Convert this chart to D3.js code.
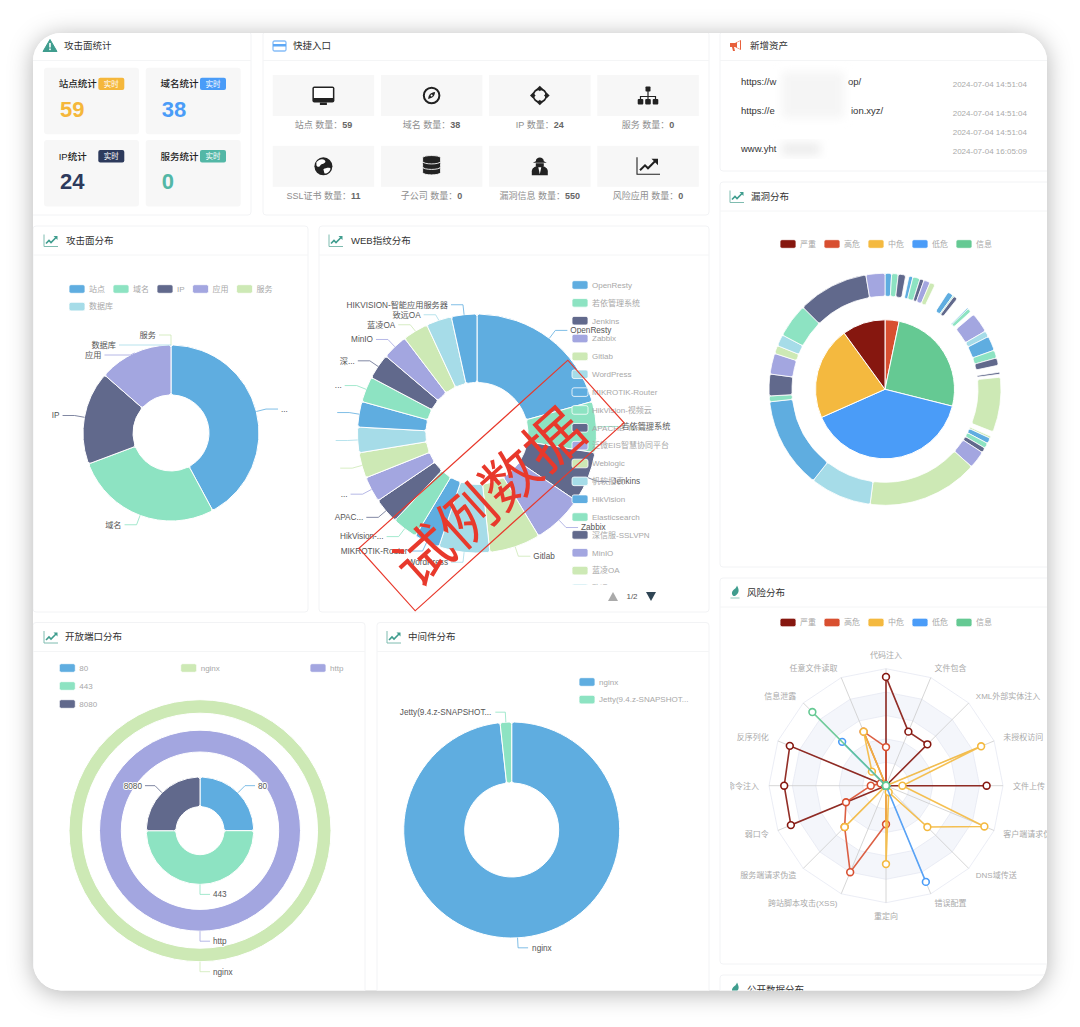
<!DOCTYPE html>
<html>
<head>
<meta charset="utf-8">
<script src="https://cdn.jsdelivr.net/npm/d3@7"></script>
<style>
  html, body { margin: 0; padding: 0; background: #fff; }
  svg { display: block; font-family: "Liberation Sans", "Noto Sans CJK SC", sans-serif; }
</style>
</head>
<body>
<svg id="page" width="1080" height="1027"></svg>
<script>
// top stat tiles
const statNames = ["站点统计", "域名统计", "IP统计", "服务统计"];
const statCounts = [59, 38, 24, 0];
const statColors = ["#f5b73b", "#4a9cf8", "#2d3a5c", "#53b7a6"];

// quick entry tiles
const quickNames = ["站点", "域名", "IP", "服务", "SSL证书", "子公司", "漏洞信息", "风险应用"];
const quickCounts = [59, 38, 24, 0, 11, 0, 550, 0];

// new assets list
const assetTimes = ["2024-07-04 14:51:04", "2024-07-04 14:51:04", "2024-07-04 14:51:04", "2024-07-04 16:05:09"];

// attack surface donut
const surfaceNames = ["站点", "域名", "IP", "应用", "服务", "数据库"];
const surfaceLabels = ["...", "域名", "IP", "应用", "服务", "数据库"];
const surfaceValues = [59, 38, 24, 19, 0, 0];

// web fingerprint donut
const webNames = ["OpenResty", "若依管理系统", "Jenkins", "Zabbix", "Gitlab", "WordPress", "MIKROTIK-Router",
  "HikVision-视频云", "APACHE-Tomcat", "泛微EIS智慧协同平台", "Weblogic", "帆软报表", "HikVision", "Elasticsearch",
  "深信服-SSLVPN", "MinIO", "蓝凌OA", "致远OA", "HIKVISION-智能应用服务器"];
const webLabels = ["OpenResty", "若依管理系统", "Jenkins", "Zabbix", "Gitlab", "WordPress", "MIKROTIK-Router",
  "HikVision-...", "APAC...", "...", "", "", "", "...", "深...", "MinIO", "蓝凌OA", "致远OA", "HIKVISION-智能应用服务器"];
const webValues = [6, 2, 2, 2, 2, 2, 1, 1, 1, 1, 1, 1, 1, 1, 1, 1, 1, 1, 1];

// open port rings
const portNames = ["80", "443", "8080"];
const portValues = [1, 2, 1];

// middleware donut
const middleNames = ["nginx", "Jetty(9.4.z-SNAPSHOT..."];
const middleValues = [57, 1];

// severity levels, shared by vuln pie and risk radar
const levelNames = ["严重", "高危", "中危", "低危", "信息"];
const levelColors = ["#86170f", "#d84f30", "#f4b93f", "#4a9cf8", "#65c993"];

// vuln pie runs clockwise from the top in this order
const vulnLevelOrder = [1, 4, 3, 2, 0];
const vulnValues = [55, 18, 119, 217, 141];

// outer vuln ring, category index is palette index, null is an empty stretch of the ring
const vulnRingValues = [3.3, 3.3, 3.7, 1.7, 2, 3.6, 2.1, 3.2, 2.7, 7.4, 3, 0.6, 2, 6.7, 0.6, 1.9, 2, 10.1, 3.1, 7.3, 4, 3.7,
  3.5, 1, 1.5, 27.5, 2.5, 1, 2.8, 2.7, 2.5, 8.8, 55.6, 30.8, 45.6, 2.9, 10.9, 10.4, 4.1, 5.8, 17.1, 35.5, 9.5];
const vulnRingCats = [0, 1, 2, null, 0, 1, 2, 3, 4, null, 0, 1, 2, null, 0, 1, null, 3, 5, 0, 1, 2,
  null, 2, null, 4, null, 4, 0, 1, 2, 3, 4, 5, 0, 1, 2, 3, 4, 5, 1, 2, 3];

// risk radar, percent of the axis
const radarAxes = ["代码注入", "文件包含", "XML外部实体注入", "未授权访问", "文件上传", "客户端请求伪造", "DNS域传送", "错误配置",
  "重定向", "跨站脚本攻击(XSS)", "服务端请求伪造", "弱口令", "命令注入", "反序列化", "信息泄露", "任意文件读取"];
const radarCritical = [93, 50, 50, 0, 86, 0, 0, 0, 0, 0, 0, 88, 87, 89, 0, 0];
const radarHigh = [33, 0, 0, 0, 0, 0, 0, 0, 33, 80, 50, 37, 13, 5, 0, 50];
const radarMedium = [0, 0, 0, 88, 14, 91, 50, 6, 67, 0, 50, 0, 0, 0, 17, 50];
const radarLow = [0, 0, 0, 0, 0, 0, 0, 89, 0, 0, 0, 0, 0, 0, 53, 0];
const radarInfo = [0, 0, 0, 0, 0, 0, 0, 0, 0, 0, 0, 0, 0, 0, 89, 0];
const radarSeries = [radarCritical, radarHigh, radarMedium, radarLow, radarInfo];

const palette = ["#5fade0", "#8de3c2", "#61698c", "#a3a6e0", "#cde9b5", "#a6dce8"];
const textGray = "#a8a8a8";
const labelColor = "#555";
const tileBg = "#f7f7f7";
const iconDark = "#222";
const iconTeal = "#3f9d8e";

const svg = d3.select("#page");
const defs = svg.append("defs");

defs.append("filter").attr("id", "soft").attr("x", "-30%").attr("y", "-30%").attr("width", "160%").attr("height", "160%")
  .append("feGaussianBlur").attr("stdDeviation", 5);
defs.append("clipPath").attr("id", "windowClip")
  .append("rect").attr("x", 33).attr("y", 33).attr("width", 1014).attr("height", 957.5).attr("rx", 28);
defs.append("clipPath").attr("id", "webLegendClip")
  .append("rect").attr("x", 560).attr("y", 276).attr("width", 140).attr("height", 309);
defs.append("clipPath").attr("id", "radarClip")
  .append("rect").attr("x", 730).attr("y", 630).attr("width", 317).attr("height", 310);

// window with its shadow
svg.append("rect").attr("x", 33).attr("y", 33).attr("width", 1014).attr("height", 957.5).attr("rx", 28)
  .attr("fill", "#fff").style("filter", "drop-shadow(0 3px 12px rgba(0,0,0,.3))");

const root = svg.append("g").attr("clip-path", "url(#windowClip)");

function txt(g, x, y, s, size, color, anchor, weight) {
  return g.append("text").attr("x", x).attr("y", y).attr("dy", "0.35em")
    .attr("font-size", size).attr("fill", color).attr("text-anchor", anchor || "start")
    .attr("font-weight", weight || 400).text(s);
}

// ---- small icons, drawn around 0,0 ----
const icons = {
  warn(g) {
    g.append("path").attr("d", "M0,-6.5L7,5.5H-7Z").attr("fill", iconTeal).attr("stroke", iconTeal).attr("stroke-linejoin", "round");
    g.append("rect").attr("x", -0.8).attr("y", -3).attr("width", 1.6).attr("height", 4.5).attr("fill", "#fff");
    g.append("rect").attr("x", -0.8).attr("y", 2.5).attr("width", 1.6).attr("height", 1.6).attr("fill", "#fff");
  },
  card(g) {
    g.append("rect").attr("x", -6.5).attr("y", -5).attr("width", 13).attr("height", 10).attr("rx", 1.5).attr("fill", "#fff").attr("stroke", "#86bdf8").attr("stroke-width", 1.3);
    g.append("rect").attr("x", -6.5).attr("y", -2).attr("width", 13).attr("height", 2.5).attr("fill", "#5ea8f5");
  },
  horn(g) {
    g.append("path").attr("d", "M-6,-3H-1L5,-6V4L-1,1H-6Z").attr("fill", "#e8603c");
    g.append("path").attr("d", "M-4,1L-3,5H-1L-2,1Z").attr("fill", "#e8603c");
    g.append("path").attr("d", "M1,-3.5L4,-5V3L1,1.5Z").attr("fill", "#fff");
  },
  trend(g) {
    g.append("path").attr("d", "M-7,-6V6H7").attr("fill", "none").attr("stroke", "#7fbcb0").attr("stroke-width", 1);
    g.append("path").attr("d", "M-5,3L-2,0L0,2L5,-3").attr("fill", "none").attr("stroke", iconTeal).attr("stroke-width", 1.6);
    g.append("path").attr("d", "M2.5,-4.5H6.5V-0.5Z").attr("fill", iconTeal);
  },
  leaf(g) {
    g.append("path").attr("d", "M2,-7C4,-3 5,0 0,3.5C-3,4 -4,0 -2,-2C0,-4 1,-4 2,-7Z").attr("fill", iconTeal);
    g.append("rect").attr("x", -4.5).attr("y", 5).attr("width", 9).attr("height", 1).attr("fill", "#8fc9bd");
  },
  monitor(g) {
    g.append("rect").attr("x", -11).attr("y", -9).attr("width", 22).attr("height", 16).attr("rx", 2).attr("fill", iconDark);
    g.append("rect").attr("x", -9.5).attr("y", -7.5).attr("width", 19).attr("height", 10).attr("fill", "#fff");
    g.append("rect").attr("x", -3.5).attr("y", 7).attr("width", 7).attr("height", 2.5).attr("fill", iconDark);
  },
  compass(g) {
    g.append("circle").attr("r", 7.8).attr("fill", "none").attr("stroke", iconDark).attr("stroke-width", 2);
    g.append("path").attr("d", "M3.5,-3.5C3,1 1,2.5 -3.5,3.5C-3,-1 -1,-3 3.5,-3.5Z").attr("fill", iconDark);
    g.append("circle").attr("r", 1).attr("fill", "#fff");
  },
  target(g) {
    g.append("circle").attr("r", 6.5).attr("fill", "none").attr("stroke", iconDark).attr("stroke-width", 1.8);
    [[0, -7], [7, 0], [0, 7], [-7, 0]].forEach(p =>
      g.append("rect").attr("x", p[0] - 2).attr("y", p[1] - 2).attr("width", 4).attr("height", 4)
        .attr("fill", iconDark).attr("transform", `rotate(45,${p[0]},${p[1]})`));
  },
  sitemap(g) {
    g.append("path").attr("d", "M0,-5V1M-7.5,5V1H7.5V5M0,1V5").attr("fill", "none").attr("stroke", iconDark).attr("stroke-width", 1.2);
    g.append("rect").attr("x", -2.5).attr("y", -9).attr("width", 5).attr("height", 5).attr("rx", 0.8).attr("fill", iconDark);
    [-7.5, 0, 7.5].forEach(x =>
      g.append("rect").attr("x", x - 2.8).attr("y", 3.5).attr("width", 5.6).attr("height", 5.5).attr("rx", 1).attr("fill", iconDark));
  },
  globe(g) {
    g.append("circle").attr("r", 9).attr("fill", iconDark);
    g.append("path").attr("d", "M-7,-4C-4,-8 1,-8 2,-5C2,-2 -2,-3 -3,-1C-4,1 -6,1 -7,-1ZM0,3C3,1 8,1 7,3C6,6 3,8 1,7Z").attr("fill", "#fff");
  },
  database(g) {
    [4.5, -1, -6.5].forEach(y => {
      g.append("path").attr("d", `M-9,${y - 2}C-9,${y - 5} 9,${y - 5} 9,${y - 2}V${y + 1.5}C9,${y + 5} -9,${y + 5} -9,${y + 1.5}Z`)
        .attr("fill", iconDark).attr("stroke", "#f7f7f7").attr("stroke-width", 0.9);
    });
  },
  spy(g) {
    g.append("path").attr("d", "M-8,9V5C-8,2 -5,0 -2,0H2C5,0 8,2 8,5V9Z").attr("fill", iconDark);
    g.append("path").attr("d", "M-4,-5C-4,-10 4,-10 4,-5L7,-3.5H-7Z").attr("fill", iconDark);
    g.append("path").attr("d", "M-4,-3H4V-1C4,1 2,2 0,2C-2,2 -4,1 -4,-1Z").attr("fill", iconDark);
    g.append("path").attr("d", "M-1.5,1L0,8L1.5,1Z").attr("fill", "#fff");
  },
  chart(g) {
    g.append("path").attr("d", "M-11,-9V8H12").attr("fill", "none").attr("stroke", iconDark).attr("stroke-width", 1.1);
    g.append("path").attr("d", "M-8,4L-3,-1L0,2L7,-5").attr("fill", "none").attr("stroke", iconDark).attr("stroke-width", 2);
    g.append("path").attr("d", "M3.5,-7.5H10V-1Z").attr("fill", iconDark);
  }
};
function icon(g, name, x, y) {
  icons[name](g.append("g").attr("transform", `translate(${x},${y})`));
}

// ---- cards ----
function card(x0, y0, x1, y1, title, iconName, iconX, titleX) {
  root.append("rect").attr("x", x0).attr("y", y0).attr("width", x1 - x0).attr("height", y1 - y0).attr("rx", 3)
    .attr("fill", "#fff").attr("stroke", "#f2f3f5");
  root.append("line").attr("x1", x0).attr("x2", x1).attr("y1", y0 + 29).attr("y2", y0 + 29).attr("stroke", "#f4f5f6");
  icon(root, iconName, iconX, y0 + 14.5);
  txt(root, titleX, y0 + 14.5, title, 9.5, "#333");
}
card(30, 31.5, 251, 215, "攻击面统计", "warn", 50, 64);
card(263, 31.5, 709, 215, "快捷入口", "card", 279.5, 293);
card(720, 31.5, 1060, 171, "新增资产", "horn", 736, 750);
card(720, 182, 1060, 567, "漏洞分布", "trend", 737, 751);
card(33, 226, 308, 612, "攻击面分布", "trend", 51, 66);
card(319, 226, 709, 612, "WEB指纹分布", "trend", 336, 351);
card(720, 578, 1060, 964, "风险分布", "leaf", 735, 747);
card(33, 622.5, 365, 1000, "开放端口分布", "trend", 51, 65);
card(377, 622.5, 709, 1000, "中间件分布", "trend", 394, 408);
card(720, 975, 1060, 1100, "公开数据分布", "leaf", 735, 747);

// ---- stat tiles ----
statNames.forEach((name, i) => {
  const x = 44 + (i % 2) * 101.7, y = 67.7 + Math.floor(i / 2) * 72.4;
  root.append("rect").attr("x", x).attr("y", y).attr("width", 95).attr("height", 66.5).attr("rx", 3).attr("fill", tileBg);
  txt(root, x + 14.7, y + 16.3, name, 9.5, "#222", "start", 500);
  root.append("rect").attr("x", x + 54.3).attr("y", y + 10).attr("width", 26).attr("height", 12.3).attr("rx", 2).attr("fill", statColors[i]);
  txt(root, x + 67.3, y + 16.3, "实时", 7.5, "#fff", "middle");
  txt(root, x + 16, y + 41.5, statCounts[i], 22, statColors[i], "start", 700);
});

// ---- quick entry tiles ----
const quickIcons = ["monitor", "compass", "target", "sitemap", "globe", "database", "spy", "chart"];
quickNames.forEach((name, i) => {
  const x = 272.7 + (i % 4) * 108.2, y = 75 + Math.floor(i / 4) * 70.8;
  root.append("rect").attr("x", x).attr("y", y).attr("width", 101.5).attr("height", 41).attr("fill", tileBg);
  icon(root, quickIcons[i], x + 50.7, y + 20.5);
  const t = txt(root, x + 50.7, y + 50, null, 9, "#8e8e8e", "middle");
  t.append("tspan").text(name + " 数量：");
  t.append("tspan").attr("font-weight", 700).attr("fill", "#666").text(quickCounts[i]);
});

// ---- new assets ----
txt(root, 741, 82, "https://w", 9.5, "#333");
txt(root, 848, 82, "op/", 9.5, "#333");
txt(root, 741, 111, "https://e", 9.5, "#333");
txt(root, 851, 111, "ion.xyz/", 9.5, "#333");
txt(root, 741, 149, "www.yht", 9.5, "#333");
root.append("rect").attr("x", 782).attr("y", 72).attr("width", 62).attr("height", 46).attr("fill", "#f5f5f5").attr("filter", "url(#soft)");
root.append("rect").attr("x", 782).attr("y", 143).attr("width", 38).attr("height", 12).attr("fill", "#ececec").attr("filter", "url(#soft)");
assetTimes.forEach((t, i) => {
  txt(root, 952.7, [84.3, 113, 132, 151][i], t, 8, "#aaa");
});

// ---- legend with wrapping ----
function legend(g, names, colors, x0, y0, opts) {
  opts = opts || {};
  const rowStep = opts.rowStep || 17.6;
  let x = x0, y = y0;
  names.forEach((name, i) => {
    const s = g.append("g");
    s.append("rect").attr("x", x).attr("y", y - 4.3).attr("width", 16).attr("height", 8.6).attr("rx", 2)
      .attr("fill", colors[i % colors.length]).attr("stroke", "#fff").attr("stroke-width", 0.8);
    const t = txt(s, x + 20, y, name, 8, textGray);
    if (opts.vertical) {
      y += rowStep;
    } else {
      const w = t.node().getComputedTextLength();
      x += 16 + 4 + w + 8;
      if (opts.maxX && i < names.length - 1 && x + 36 > opts.maxX) { x = x0; y += rowStep; }
    }
  });
}

// ---- donut with echarts style elbow labels ----
function donut(g, o) {
  const pie = d3.pie().sort(null).value(d => d.value);
  const arcs = pie(o.values.map((v, i) => ({ value: v, color: o.color(i), label: o.labels ? o.labels[i] : null, i })));
  const arc = d3.arc().innerRadius(o.inner).outerRadius(o.outer).cornerRadius(o.corner === undefined ? 2.5 : o.corner);
  const c = g.append("g").attr("transform", `translate(${o.cx},${o.cy})`);
  c.selectAll("path").data(arcs.filter(d => d.data.value > 0 && d.data.color)).join("path")
    .attr("d", arc).attr("fill", d => d.data.color)
    .attr("stroke", "#fff").attr("stroke-width", o.seam === undefined ? 1 : o.seam);
  if (o.labels) elbowLabels(g, o, arcs);
}

function elbowLabels(g, o, arcs) {
  const len1 = o.len1 || 10, len2 = o.len2 || 12, textGap = o.textGap || 3;
  const items = arcs.map(d => {
    const a = (d.startAngle + d.endAngle) / 2;
    return {
      a, text: d.data.label, color: d.data.color, left: a > Math.PI,
      x0: o.cx + o.outer * Math.sin(a), y0: o.cy - o.outer * Math.cos(a),
      x1: o.cx + (o.outer + len1) * Math.sin(a), y1: o.cy - (o.outer + len1) * Math.cos(a)
    };
  });
  // push overlapping left labels down, top one stays put
  const left = items.filter(d => d.left).sort((p, q) => d3.descending(p.a, q.a));
  let prev = -Infinity;
  left.forEach(d => {
    const top = d.a > 3 * Math.PI / 2;
    if (top && d.y1 < prev + 10) d.y1 = prev + 10;
    prev = d.y1;
  });
  const reach = o.reach || {};
  const l = g.append("g");
  items.forEach(d => {
    const extra = reach[d.text] || 0;
    const dir = d.left ? -1 : 1;
    const x2 = d.x1 + dir * (len2 + extra);
    l.append("path").attr("d", d3.line()([[d.x0, d.y0], [d.x1, d.y1], [x2, d.y1]]))
      .attr("fill", "none").attr("stroke", d.color).attr("stroke-width", 0.8);
    const t = txt(l, x2 + dir * textGap, d.y1, d.text, 8.2, labelColor, d.left ? "end" : "start");
    if (o.halo) t.attr("stroke", "#fff").attr("stroke-width", 2).attr("paint-order", "stroke");
  });
}

const cycle = i => palette[i % palette.length];

// attack surface
legend(root, surfaceNames, palette, 69, 289, { maxX: 290 });
donut(root, {
  cx: 171, cy: 433, inner: 38, outer: 88, values: surfaceValues, labels: surfaceLabels, color: cycle,
  reach: { "数据库": 40, "应用": 14 }
});

// web fingerprint
donut(root, { cx: 477, cy: 433.5, inner: 51, outer: 119.5, values: webValues, labels: webLabels, color: cycle });
const webLegend = root.append("g").attr("clip-path", "url(#webLegendClip)");
legend(webLegend, webNames.slice(0, 18), palette, 572, 285, { vertical: true, rowStep: 17.85 });
root.append("path").attr("d", "M608,601L613,592L618,601Z").attr("fill", "#aaa");
txt(root, 632, 596.5, "1/2", 8, "#555", "middle");
root.append("path").attr("d", "M646,592H656L651,601Z").attr("fill", "#2f4554");

// open ports
legend(root, portNames, palette, 59.3, 668, { vertical: true, rowStep: 18 });
legend(root, ["nginx"], [palette[4]], 180.7, 668);
legend(root, ["http"], [palette[3]], 310, 668);
donut(root, { cx: 200, cy: 830.7, inner: 117.5, outer: 131, values: [1], labels: ["nginx"], color: () => palette[4], len1: 10, len2: 10, halo: true, corner: 0 });
donut(root, { cx: 200, cy: 830.7, inner: 78.7, outer: 100.5, values: [1], labels: ["http"], color: () => palette[3], len1: 10, len2: 10, halo: true, corner: 0 });
donut(root, { cx: 200, cy: 830.7, inner: 24, outer: 53.7, values: portValues, labels: portNames, color: cycle, len1: 10, len2: 10, halo: true });

// middleware
legend(root, middleNames, palette, 579, 682, { vertical: true });
donut(root, { cx: 511.7, cy: 830, inner: 47, outer: 108, values: middleValues, labels: middleNames, color: cycle, len1: 10, len2: 10, textGap: 4 });

// vuln distribution
legend(root, levelNames, levelColors, 780, 244);
donut(root, {
  cx: 885, cy: 389.3, inner: 0, outer: 69.5, corner: 0,
  values: vulnLevelOrder.map(k => vulnValues[k]), color: i => levelColors[vulnLevelOrder[i]]
});
donut(root, {
  cx: 885, cy: 389.3, inner: 93, outer: 116, corner: 2, seam: 0.8,
  values: vulnRingValues, color: i => vulnRingCats[i] === null ? null : palette[vulnRingCats[i]]
});

// ---- risk radar ----
legend(root, levelNames, levelColors, 780, 622.5);
(function radar() {
  const cx = 886, cy = 785.7, R = 117;
  const rScale = d3.scaleLinear().domain([0, 100]).range([0, R]);
  const angle = d3.scalePoint().domain(d3.range(radarAxes.length)).range([0, 2 * Math.PI * (1 - 1 / radarAxes.length)]);
  const ring = d3.lineRadial().angle((d, i) => angle(i)).radius(d => rScale(d)).curve(d3.curveLinearClosed);
  const g = root.append("g").attr("clip-path", "url(#radarClip)");
  const c = g.append("g").attr("transform", `translate(${cx},${cy})`);
  [100, 80, 60, 40, 20].forEach((lev, i) => {
    c.append("path").attr("d", ring(radarAxes.map(() => lev)))
      .attr("fill", i % 2 ? "#f4f6fb" : "#fff").attr("stroke", "#e6e9f3").attr("stroke-width", 0.8);
  });
  radarAxes.forEach((name, i) => {
    const a = angle(i), sx = Math.sin(a), sy = -Math.cos(a);
    c.append("line").attr("x2", R * sx).attr("y2", R * sy).attr("stroke", "#ccc").attr("stroke-width", 0.8);
    const lift = Math.abs(sx) < 0.01 ? 4 * Math.sign(sy) : 0;
    const anchor = Math.abs(sx) < 0.01 ? "middle" : sx > 0 ? "start" : "end";
    txt(c, (R + 10) * sx, (R + 10) * sy + lift, name, 8, "#aaa", anchor);
  });
  radarSeries.forEach((vals, k) => {
    const s = c.append("g");
    s.append("path").attr("d", ring(vals)).attr("fill", "none").attr("stroke", levelColors[k]).attr("stroke-width", 1.6).attr("stroke-opacity", 0.9);
    s.selectAll("circle").data(vals).join("circle")
      .attr("cx", (d, i) => rScale(d) * Math.sin(angle(i)))
      .attr("cy", (d, i) => -rScale(d) * Math.cos(angle(i)))
      .attr("r", 3.4).attr("fill", "#fff").attr("stroke", levelColors[k]).attr("stroke-width", 1.6);
  });
})();

// ---- watermark over the web chart ----
const mark = root.append("g").attr("transform", "translate(491.5,485.5) rotate(-42)");
mark.append("rect").attr("x", -140.5).attr("y", -42).attr("width", 281).attr("height", 84)
  .attr("fill", "none").attr("stroke", "#e8392c").attr("stroke-width", 1.2);
mark.append("text").attr("text-anchor", "middle").attr("dy", "0.36em").attr("x", -10).attr("y", 7.5)
  .attr("font-size", 58).attr("fill", "#e8392c").text("试例数据");
</script>
</body>
</html>
